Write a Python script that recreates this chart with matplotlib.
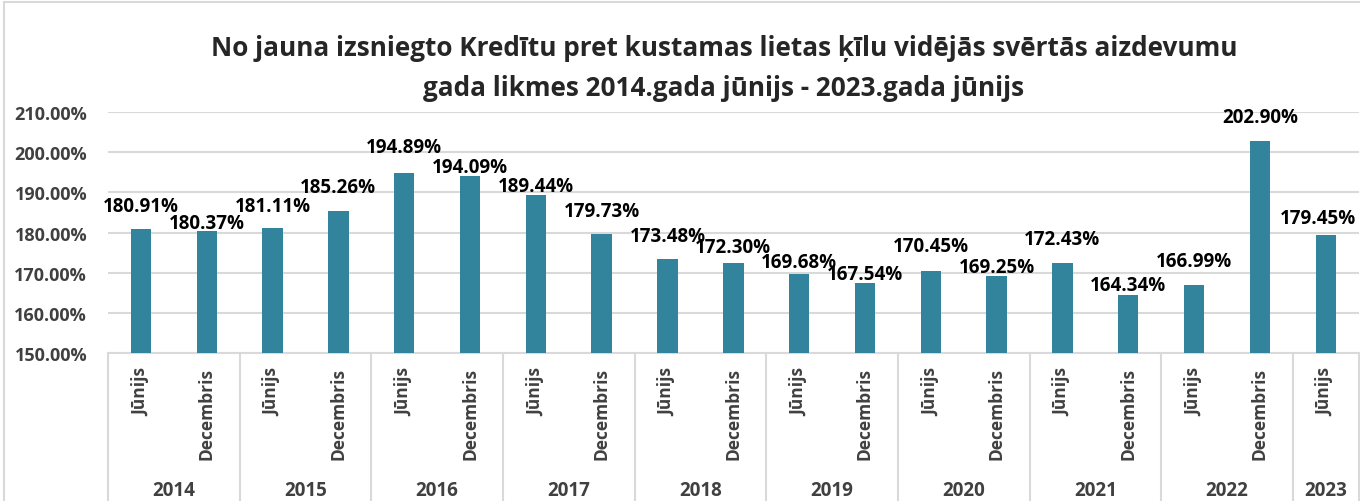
import numpy as np
import matplotlib.pyplot as plt
from matplotlib.ticker import MultipleLocator, FuncFormatter
from matplotlib.patches import Rectangle

plt.rcParams['font.family'] = ['Open Sans', 'DejaVu Sans']

# dati
gadi = ['2014', '2015', '2016', '2017', '2018', '2019', '2020', '2021', '2022', '2023']
menesi = ['Jūnijs', 'Decembris'] * 9 + ['Jūnijs']
likmes = [180.91, 180.37, 181.11, 185.26, 194.89, 194.09, 189.44, 179.73, 173.48,
          172.30, 169.68, 167.54, 170.45, 169.25, 172.43, 164.34, 166.99, 202.90, 179.45]
# cik tālu virs stabiņa ir uzraksts (pikseļos), excelā tie ir pabīdīti ar roku
uzr_atstarpe = [23, 8, 22, 24, 26, 9, 9, 23, 23, 16, 12, 9, 25, 9, 24, 10, 24, 24, 17]
uzr_nobide = [0] * 18 + [-8]  # pēdējais uzraksts pabīdīts pa kreisi

krasa = '#31849B'
pelek = '#D9D9D9'
teksts = '#404040'

fig = plt.figure(figsize=(13.6, 5.02), dpi=100)
ax = fig.add_axes([108 / 1360, 1 - 354 / 502, 1 - 108 / 1360 - 0.001, 241 / 502])

x = np.arange(len(likmes))
ax.bar(x, likmes, width=0.31, color=krasa, zorder=3)

ax.set_ylim(150, 210)
ax.set_xlim(-0.5, len(likmes) - 0.5)
ax.yaxis.set_major_locator(MultipleLocator(10))
ax.yaxis.set_major_formatter(FuncFormatter(lambda v, p: f'{v:.2f}%'))
ax.grid(axis='y', color=pelek, lw=1.5, zorder=0)
for s in ax.spines.values():
    s.set_visible(False)
ax.axhline(150, color=pelek, lw=1.5, zorder=2, clip_on=False)

ax.tick_params(axis='y', length=0, pad=15, labelsize=13, labelcolor=teksts)
for t in ax.get_yticklabels():
    t.set_fontweight('bold')

# mēneši (pagriezti)
ax.set_xticks(x)
ax.set_xticklabels(menesi, rotation=90, fontsize=12.5, fontweight='bold', color=teksts)
ax.tick_params(axis='x', length=0, pad=10)

# gadi un atdalītāji
tr = ax.get_xaxis_transform()
robezas = [-0.5]
poz = 0
for g in gadi:
    n = 1 if g == '2023' else 2
    ax.text(poz + (n - 1) / 2, -(491 - 354) / 241, g, transform=tr, ha='center', va='center',
            fontsize=13.5, fontweight='bold', color=teksts)
    poz += n
    robezas.append(poz - 0.5)
ax.vlines(robezas, 0, -(502 - 354) / 241, transform=tr, colors=pelek, lw=1.5, clip_on=False)

# vērtību uzraksti
for xi, v, d, dx in zip(x, likmes, uzr_atstarpe, uzr_nobide):
    ax.annotate(f'{v:.2f}%', (xi, v), xytext=(dx * 0.72, d * 0.72), textcoords='offset points',
                ha='center', va='center', fontsize=13.5, fontweight='bold', color='black', zorder=4)

# virsraksts
fig.text(724 / 1360, 1 - 48 / 502, 'No jauna izsniegto Kredītu pret kustamas lietas ķīlu vidējās svērtās aizdevumu',
         ha='center', va='center', fontsize=18.8, fontweight='bold', color='#262626')
fig.text(724 / 1360, 1 - 88 / 502, 'gada likmes 2014.gada jūnijs - 2023.gada jūnijs',
         ha='center', va='center', fontsize=18.8, fontweight='bold', color='#262626')

# rāmis
fig.patches.append(Rectangle((0.003, -0.01), 1.0, 1.004, transform=fig.transFigure,
                             fill=False, edgecolor=pelek, lw=1.5))

fig.savefig('out.png', dpi=100)
